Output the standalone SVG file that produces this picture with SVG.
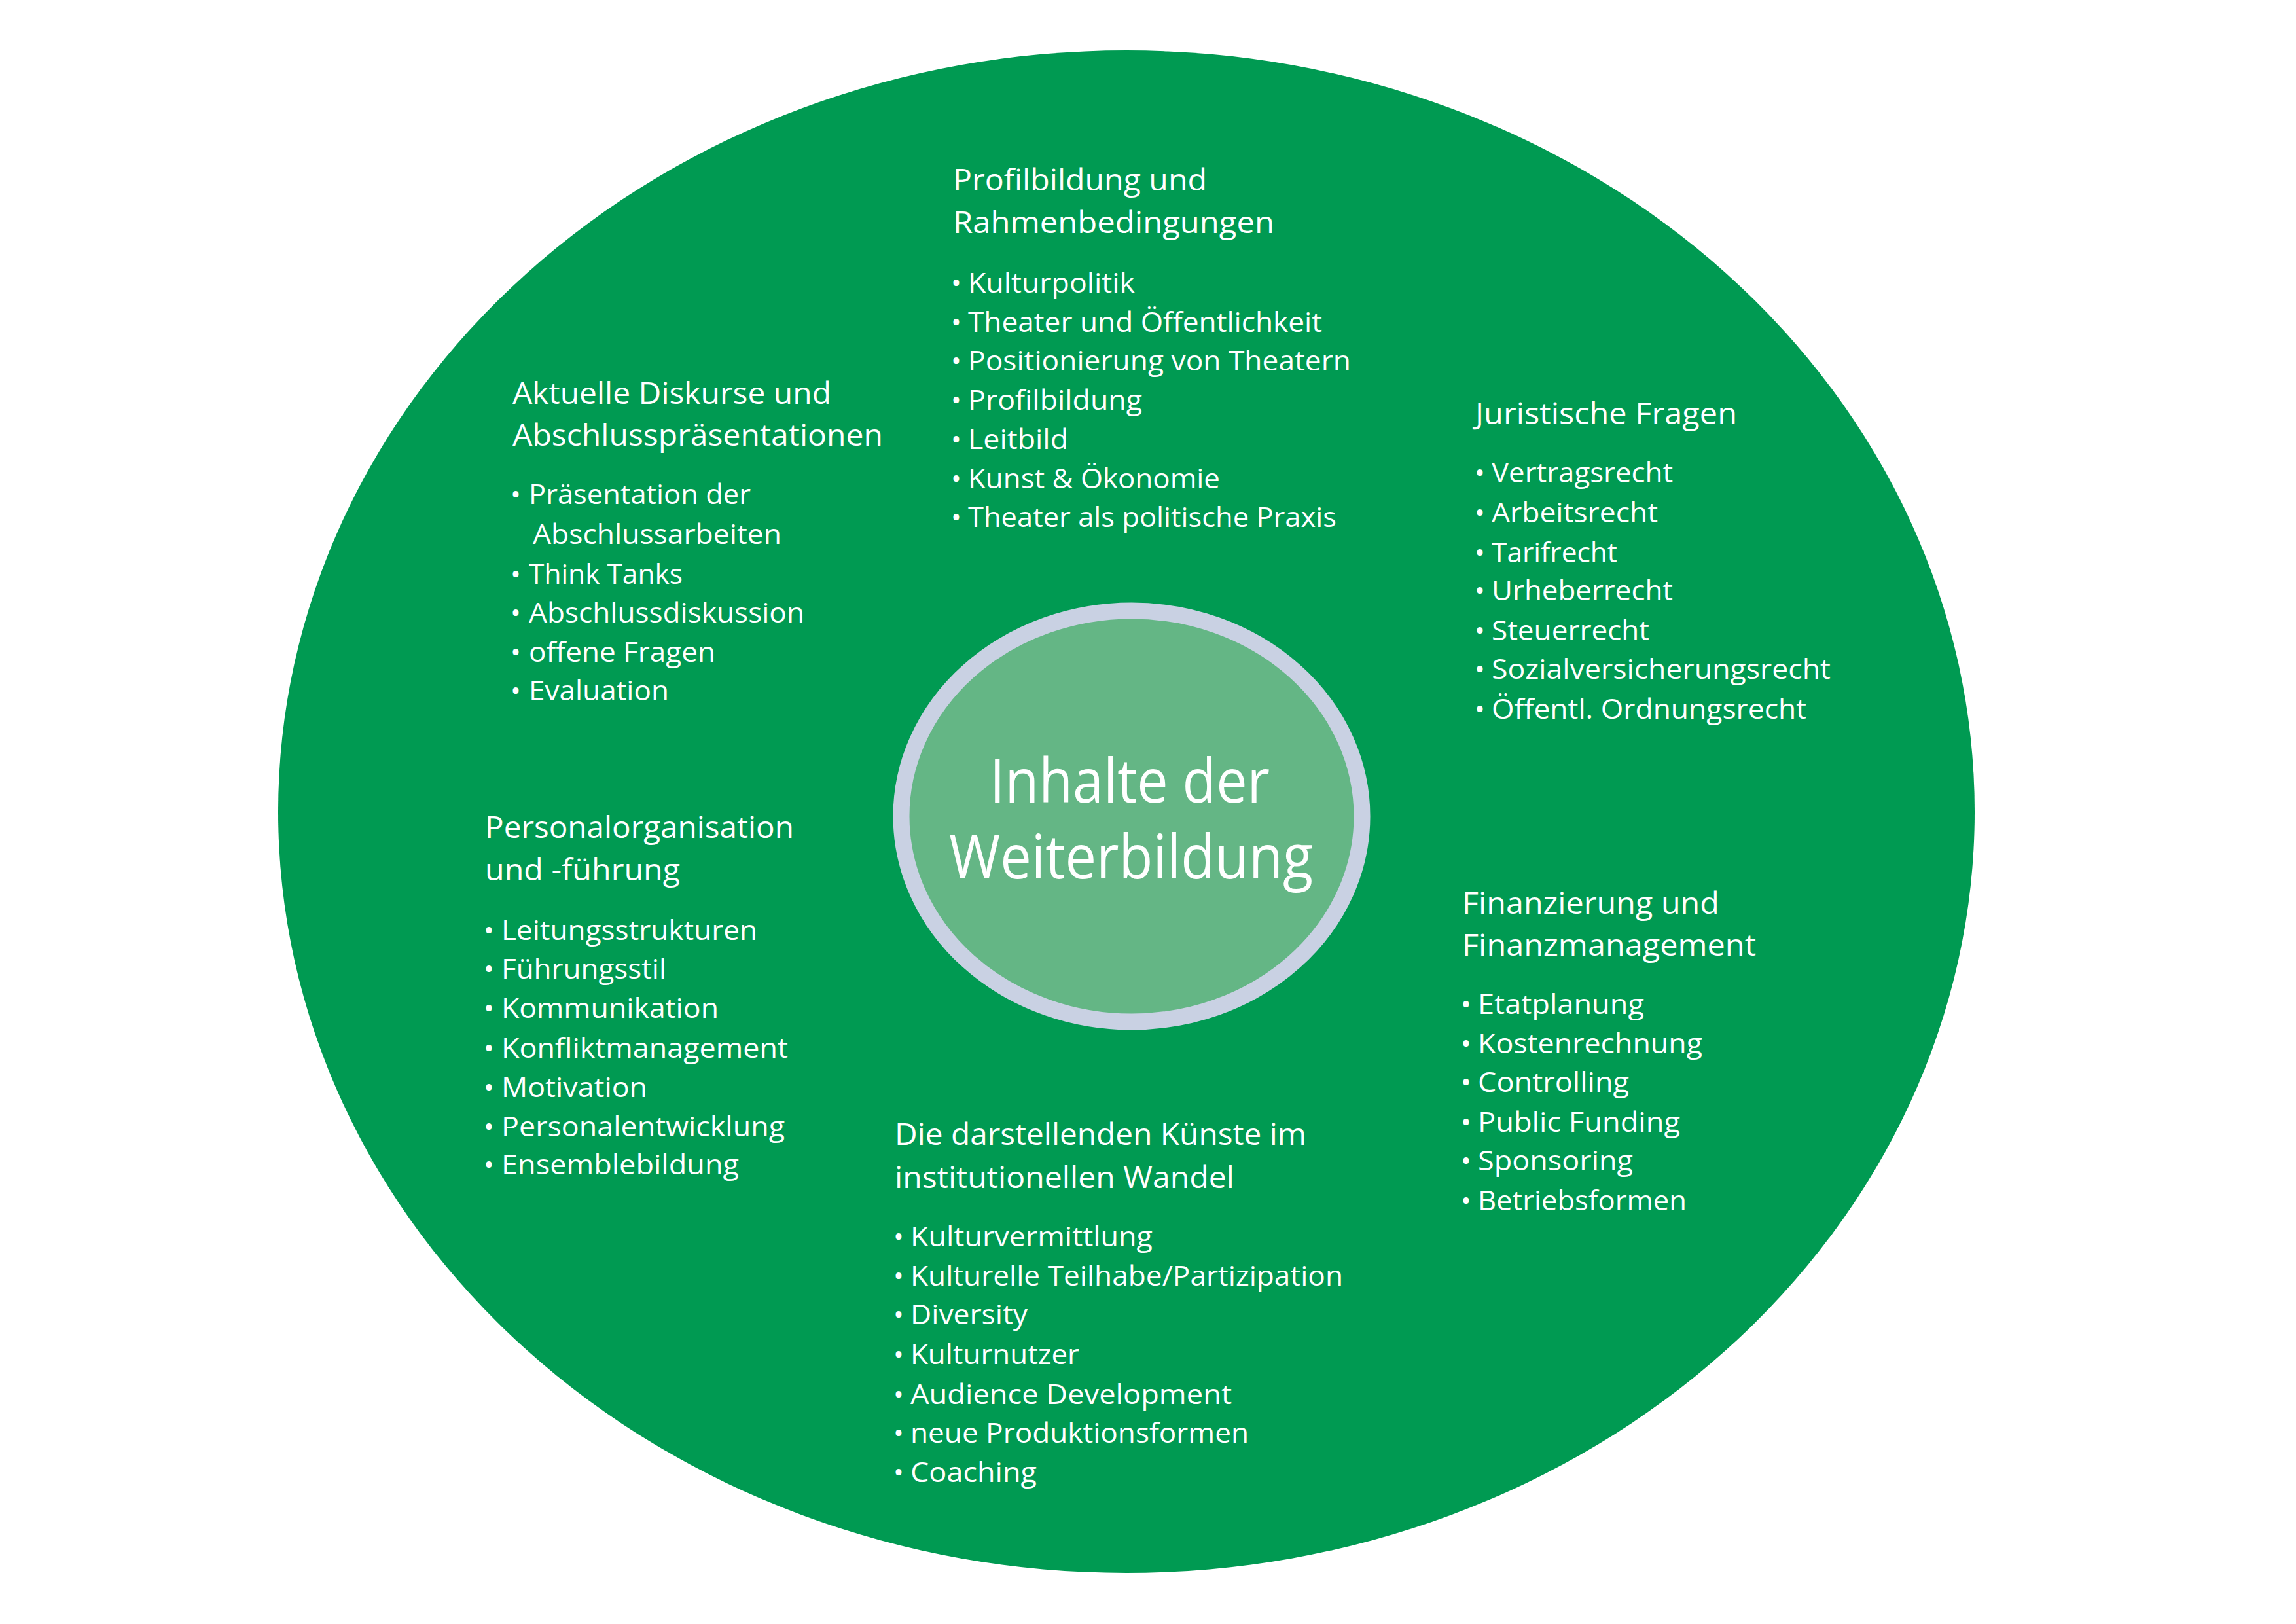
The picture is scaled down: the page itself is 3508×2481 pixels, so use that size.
<svg xmlns="http://www.w3.org/2000/svg" width="3508" height="2481" viewBox="0 0 3508 2481">
<style>
  text { font-family: "Open Sans", "Liberation Sans", sans-serif; fill: #ffffff; }
  .title { font-size: 45px; }
  .item { font-size: 42px; }
  .center { font-size: 93px; }
</style>
<rect x="0" y="0" width="3508" height="2481" fill="#ffffff"/>
<g id="outer">
  <ellipse cx="1721" cy="1240" rx="1296" ry="1163" fill="#009A52"/>
</g>
<g id="center-node">
  <ellipse cx="1729" cy="1247" rx="352" ry="314" fill="#64B685" stroke="#C9D1E3" stroke-width="25"/>
  <text class="center" text-anchor="start">
    <tspan x="1512" y="1226" textLength="428" lengthAdjust="spacingAndGlyphs">Inhalte der</tspan>
    <tspan x="1450" y="1342" textLength="556" lengthAdjust="spacingAndGlyphs">Weiterbildung</tspan>
  </text>
</g>
<g id="profilbildung">
  <text class="title"><tspan x="1456" y="291" textLength="388" lengthAdjust="spacingAndGlyphs">Profilbildung und</tspan><tspan x="1456" y="356" textLength="491" lengthAdjust="spacingAndGlyphs">Rahmenbedingungen</tspan></text>
  <text class="item" y="447"><tspan x="1453">•</tspan><tspan x="1479" textLength="255" lengthAdjust="spacingAndGlyphs">Kulturpolitik</tspan></text>
  <text class="item" y="507"><tspan x="1453">•</tspan><tspan x="1479" textLength="541" lengthAdjust="spacingAndGlyphs">Theater und Öffentlichkeit</tspan></text>
  <text class="item" y="566"><tspan x="1453">•</tspan><tspan x="1479" textLength="585" lengthAdjust="spacingAndGlyphs">Positionierung von Theatern</tspan></text>
  <text class="item" y="626"><tspan x="1453">•</tspan><tspan x="1479" textLength="266" lengthAdjust="spacingAndGlyphs">Profilbildung</tspan></text>
  <text class="item" y="686"><tspan x="1453">•</tspan><tspan x="1479" textLength="153" lengthAdjust="spacingAndGlyphs">Leitbild</tspan></text>
  <text class="item" y="746"><tspan x="1453">•</tspan><tspan x="1479" textLength="385" lengthAdjust="spacingAndGlyphs">Kunst &amp; Ökonomie</tspan></text>
  <text class="item" y="805"><tspan x="1453">•</tspan><tspan x="1479" textLength="563" lengthAdjust="spacingAndGlyphs">Theater als politische Praxis</tspan></text>
</g>
<g id="aktuelle-diskurse">
  <text class="title"><tspan x="783" y="617" textLength="487" lengthAdjust="spacingAndGlyphs">Aktuelle Diskurse und</tspan><tspan x="783" y="681" textLength="566" lengthAdjust="spacingAndGlyphs">Abschlusspräsentationen</tspan></text>
  <text class="item" y="770"><tspan x="780">•</tspan><tspan x="808" textLength="339" lengthAdjust="spacingAndGlyphs">Präsentation der</tspan></text>
  <text class="item" y="831"><tspan x="814" textLength="380" lengthAdjust="spacingAndGlyphs">Abschlussarbeiten</tspan></text>
  <text class="item" y="892"><tspan x="780">•</tspan><tspan x="808" textLength="235" lengthAdjust="spacingAndGlyphs">Think Tanks</tspan></text>
  <text class="item" y="951"><tspan x="780">•</tspan><tspan x="808" textLength="421" lengthAdjust="spacingAndGlyphs">Abschlussdiskussion</tspan></text>
  <text class="item" y="1011"><tspan x="780">•</tspan><tspan x="808" textLength="285" lengthAdjust="spacingAndGlyphs">offene Fragen</tspan></text>
  <text class="item" y="1070"><tspan x="780">•</tspan><tspan x="808" textLength="214" lengthAdjust="spacingAndGlyphs">Evaluation</tspan></text>
</g>
<g id="juristische-fragen">
  <text class="title"><tspan x="2254" y="648" textLength="400" lengthAdjust="spacingAndGlyphs">Juristische Fragen</tspan></text>
  <text class="item" y="737"><tspan x="2253">•</tspan><tspan x="2279" textLength="277" lengthAdjust="spacingAndGlyphs">Vertragsrecht</tspan></text>
  <text class="item" y="798"><tspan x="2253">•</tspan><tspan x="2279" textLength="254" lengthAdjust="spacingAndGlyphs">Arbeitsrecht</tspan></text>
  <text class="item" y="859"><tspan x="2253">•</tspan><tspan x="2279" textLength="192" lengthAdjust="spacingAndGlyphs">Tarifrecht</tspan></text>
  <text class="item" y="917"><tspan x="2253">•</tspan><tspan x="2279" textLength="277" lengthAdjust="spacingAndGlyphs">Urheberrecht</tspan></text>
  <text class="item" y="978"><tspan x="2253">•</tspan><tspan x="2279" textLength="241" lengthAdjust="spacingAndGlyphs">Steuerrecht</tspan></text>
  <text class="item" y="1037"><tspan x="2253">•</tspan><tspan x="2279" textLength="518" lengthAdjust="spacingAndGlyphs">Sozialversicherungsrecht</tspan></text>
  <text class="item" y="1098"><tspan x="2253">•</tspan><tspan x="2279" textLength="481" lengthAdjust="spacingAndGlyphs">Öffentl. Ordnungsrecht</tspan></text>
</g>
<g id="personalorganisation">
  <text class="title"><tspan x="741" y="1280" textLength="472" lengthAdjust="spacingAndGlyphs">Personalorganisation</tspan><tspan x="741" y="1345" textLength="298" lengthAdjust="spacingAndGlyphs">und -führung</tspan></text>
  <text class="item" y="1436"><tspan x="739">•</tspan><tspan x="766" textLength="391" lengthAdjust="spacingAndGlyphs">Leitungsstrukturen</tspan></text>
  <text class="item" y="1495"><tspan x="739">•</tspan><tspan x="766" textLength="252" lengthAdjust="spacingAndGlyphs">Führungsstil</tspan></text>
  <text class="item" y="1555"><tspan x="739">•</tspan><tspan x="766" textLength="332" lengthAdjust="spacingAndGlyphs">Kommunikation</tspan></text>
  <text class="item" y="1616"><tspan x="739">•</tspan><tspan x="766" textLength="438" lengthAdjust="spacingAndGlyphs">Konfliktmanagement</tspan></text>
  <text class="item" y="1676"><tspan x="739">•</tspan><tspan x="766" textLength="223" lengthAdjust="spacingAndGlyphs">Motivation</tspan></text>
  <text class="item" y="1736"><tspan x="739">•</tspan><tspan x="766" textLength="433" lengthAdjust="spacingAndGlyphs">Personalentwicklung</tspan></text>
  <text class="item" y="1794"><tspan x="739">•</tspan><tspan x="766" textLength="363" lengthAdjust="spacingAndGlyphs">Ensemblebildung</tspan></text>
</g>
<g id="finanzierung">
  <text class="title"><tspan x="2234" y="1396" textLength="393" lengthAdjust="spacingAndGlyphs">Finanzierung und</tspan><tspan x="2234" y="1460" textLength="449" lengthAdjust="spacingAndGlyphs">Finanzmanagement</tspan></text>
  <text class="item" y="1549"><tspan x="2232">•</tspan><tspan x="2258" textLength="254" lengthAdjust="spacingAndGlyphs">Etatplanung</tspan></text>
  <text class="item" y="1609"><tspan x="2232">•</tspan><tspan x="2258" textLength="343" lengthAdjust="spacingAndGlyphs">Kostenrechnung</tspan></text>
  <text class="item" y="1668"><tspan x="2232">•</tspan><tspan x="2258" textLength="231" lengthAdjust="spacingAndGlyphs">Controlling</tspan></text>
  <text class="item" y="1729"><tspan x="2232">•</tspan><tspan x="2258" textLength="309" lengthAdjust="spacingAndGlyphs">Public Funding</tspan></text>
  <text class="item" y="1788"><tspan x="2232">•</tspan><tspan x="2258" textLength="237" lengthAdjust="spacingAndGlyphs">Sponsoring</tspan></text>
  <text class="item" y="1849"><tspan x="2232">•</tspan><tspan x="2258" textLength="319" lengthAdjust="spacingAndGlyphs">Betriebsformen</tspan></text>
</g>
<g id="darstellende-kuenste">
  <text class="title"><tspan x="1367" y="1749" textLength="629" lengthAdjust="spacingAndGlyphs">Die darstellenden Künste im</tspan><tspan x="1367" y="1815" textLength="519" lengthAdjust="spacingAndGlyphs">institutionellen Wandel</tspan></text>
  <text class="item" y="1904"><tspan x="1365">•</tspan><tspan x="1391" textLength="370" lengthAdjust="spacingAndGlyphs">Kulturvermittlung</tspan></text>
  <text class="item" y="1964"><tspan x="1365">•</tspan><tspan x="1391" textLength="661" lengthAdjust="spacingAndGlyphs">Kulturelle Teilhabe/Partizipation</tspan></text>
  <text class="item" y="2023"><tspan x="1365">•</tspan><tspan x="1391" textLength="179" lengthAdjust="spacingAndGlyphs">Diversity</tspan></text>
  <text class="item" y="2084"><tspan x="1365">•</tspan><tspan x="1391" textLength="258" lengthAdjust="spacingAndGlyphs">Kulturnutzer</tspan></text>
  <text class="item" y="2145"><tspan x="1365">•</tspan><tspan x="1391" textLength="491" lengthAdjust="spacingAndGlyphs">Audience Development</tspan></text>
  <text class="item" y="2204"><tspan x="1365">•</tspan><tspan x="1391" textLength="517" lengthAdjust="spacingAndGlyphs">neue Produktionsformen</tspan></text>
  <text class="item" y="2264"><tspan x="1365">•</tspan><tspan x="1391" textLength="193" lengthAdjust="spacingAndGlyphs">Coaching</tspan></text>
</g>
</svg>
